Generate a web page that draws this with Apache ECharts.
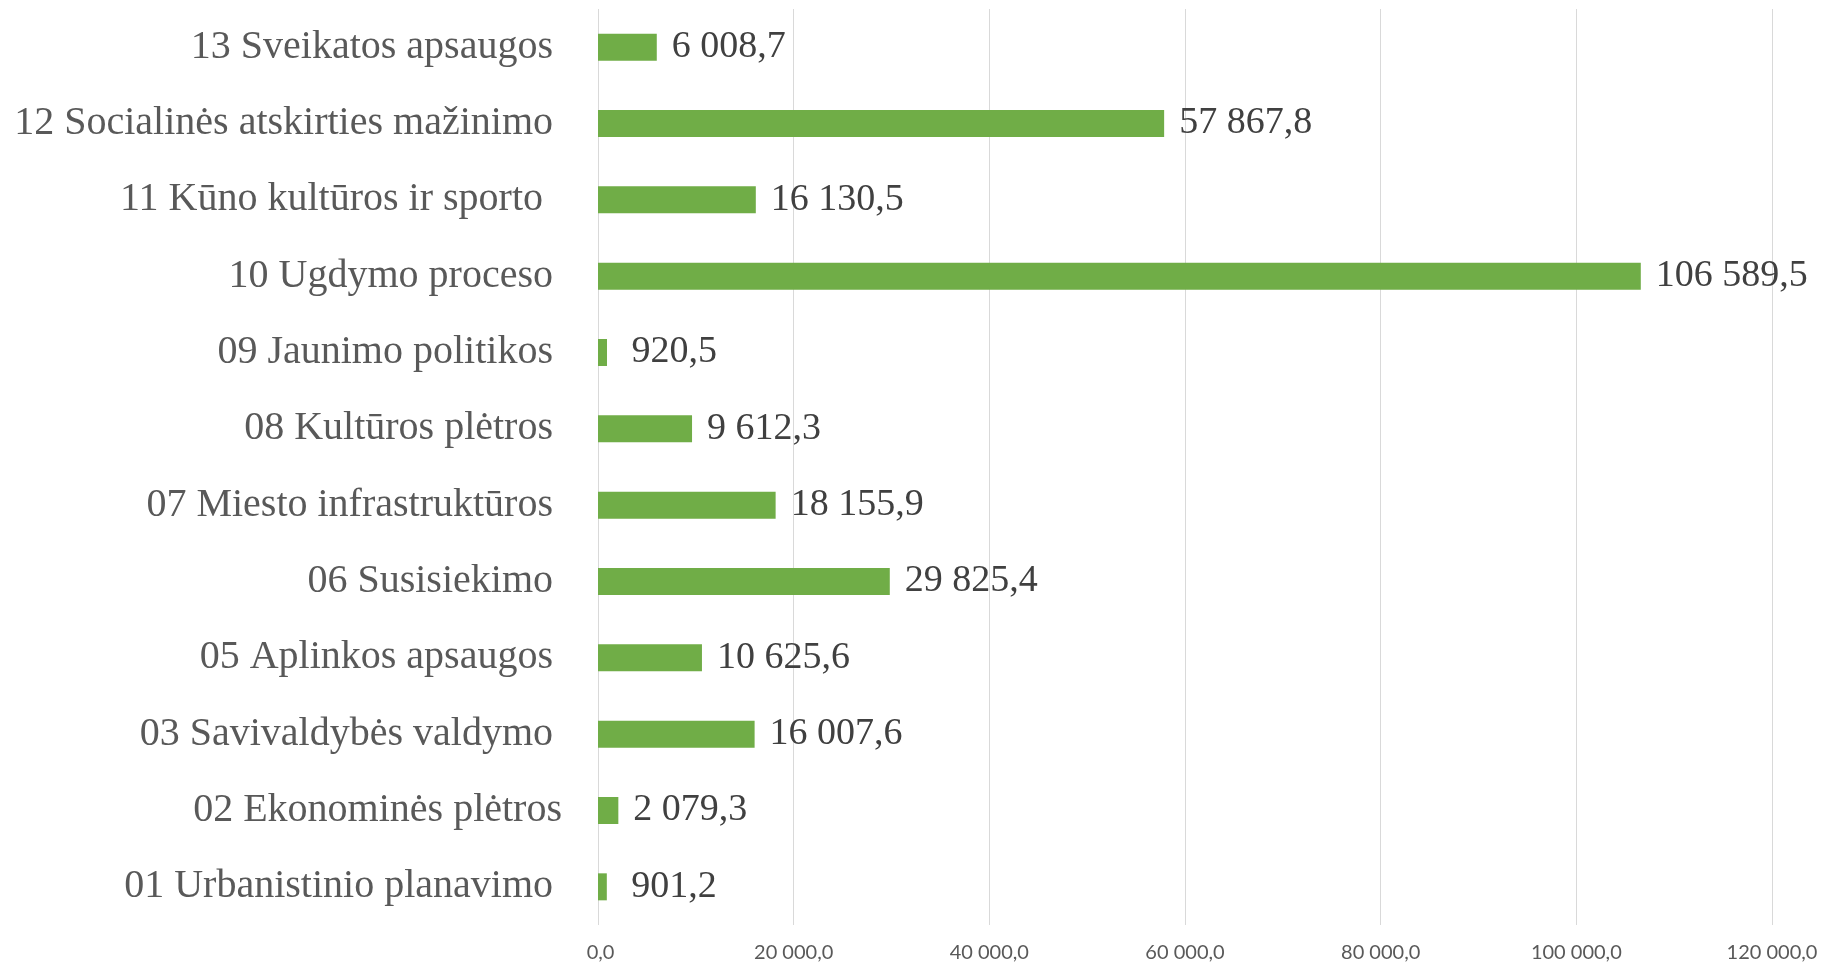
<!DOCTYPE html>
<html>
<head>
<meta charset="utf-8">
<script src="https://cdn.jsdelivr.net/npm/echarts@6/dist/echarts.min.js"></script>
<style>
  html, body { margin: 0; padding: 0; background: #fff; }
  #chart { width: 1833px; height: 967px; }
</style>
</head>
<body>
<div id="chart"></div>
<script>
// categories bottom -> top (echarts draws first category at the bottom)
const categories = [
  "01 Urbanistinio planavimo",
  "02 Ekonominės plėtros",
  "03 Savivaldybės valdymo",
  "05 Aplinkos apsaugos",
  "06 Susisiekimo",
  "07 Miesto infrastruktūros",
  "08 Kultūros plėtros",
  "09 Jaunimo politikos",
  "10 Ugdymo proceso",
  "11 Kūno kultūros ir sporto ",
  "12 Socialinės atskirties mažinimo",
  "13 Sveikatos apsaugos"
];
const values = [901.2, 2079.3, 16007.6, 10625.6, 29825.4, 18155.9, 9612.3, 920.5, 106589.5, 16130.5, 57867.8, 6008.7];
const axisMax = 120000;
const axisStep = 20000;

const serif = '"Palatino Linotype", "Book Antiqua", "Liberation Serif", serif';

function fmt(v) {
  const parts = v.toFixed(1).split(".");
  const int = parts[0].replace(/\B(?=(\d{3})+(?!\d))/g, " ");
  const s = int + "," + parts[1];
  return v < 1000 ? " " + s : s;
}

const myChart = echarts.init(document.getElementById("chart"));
const option = {
  animation: false,
  grid: {
    left: 598,
    right: 61,
    top: 9,
    bottom: 42
  },
  xAxis: {
    type: "value",
    min: 0,
    max: axisMax,
    interval: axisStep,
    axisLine: { show: false },
    axisTick: { show: false },
    axisLabel: {
      color: "#595959",
      fontFamily: "Lato, sans-serif",
      fontSize: 20,
      margin: 18,
      formatter: function (v) { return fmt(v); }
    },
    splitLine: {
      show: true,
      lineStyle: { color: "#d9d9d9", width: 1 }
    }
  },
  yAxis: {
    type: "category",
    data: categories,
    axisLine: { show: false },
    axisTick: { show: false },
    axisLabel: {
      color: "#595959",
      fontFamily: serif,
      fontSize: 40,
      margin: 36,
      // the "02" label sits a little further right in the original
      formatter: function (v) {
        return v.indexOf("02 ") === 0 ? "{a|" + v + "}" : "{b|" + v + "}";
      },
      rich: {
        a: { color: "#595959", fontFamily: serif, fontSize: 40 },
        b: { color: "#595959", fontFamily: serif, fontSize: 40, padding: [0, 9, 0, 0] }
      }
    }
  },
  series: [
    {
      type: "bar",
      data: values,
      barWidth: 27,
      itemStyle: { color: "#70AD47" },
      label: {
        show: true,
        position: "right",
        distance: 15,
        color: "#404040",
        fontFamily: serif,
        fontSize: 38,
        formatter: function (p) { return fmt(p.value); }
      }
    }
  ]
};
myChart.setOption(option);
</script>
</body>
</html>
